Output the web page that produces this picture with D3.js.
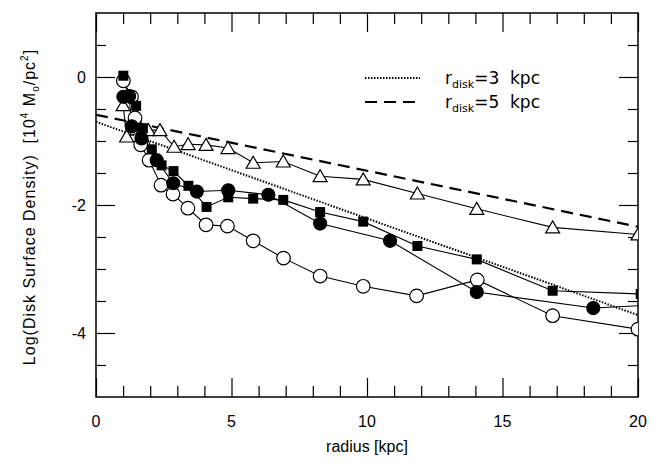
<!DOCTYPE html>
<html><head><meta charset="utf-8">
<script src="https://cdn.jsdelivr.net/npm/d3@7/dist/d3.min.js"></script>
<style>body{margin:0;background:#fff}svg{display:block}text{white-space:pre}</style>
</head><body>
<svg id="c" width="664" height="462"></svg>
<script>
// ---- data ----
const triX = [1.0, 1.13, 1.93, 2.36, 2.88, 3.4, 4.06, 4.87, 5.8, 6.91, 8.27, 9.86, 11.86, 14.05, 16.85, 20.0];
const triY = [-0.44, -0.93, -0.83, -0.83, -1.09, -1.05, -1.06, -1.11, -1.34, -1.32, -1.55, -1.60, -1.82, -2.06, -2.35, -2.46];
const fcX = [1.01, 1.22, 1.32, 1.68, 2.24, 2.85, 3.72, 4.88, 6.36, 8.27, 10.85, 14.05, 18.35, 20.6];
const fcY = [-0.31, -0.30, -0.77, -0.96, -1.30, -1.66, -1.79, -1.77, -1.84, -2.29, -2.56, -3.36, -3.61, -3.56];
const sqX = [1.01, 1.18, 1.48, 1.73, 2.06, 2.42, 2.86, 3.41, 4.08, 4.88, 5.80, 6.91, 8.27, 9.86, 11.86, 14.05, 16.85, 20.1];
const sqY = [0.02, -0.30, -0.45, -0.80, -1.13, -1.38, -1.47, -1.70, -2.03, -1.88, -1.90, -1.92, -2.11, -2.26, -2.64, -2.85, -3.34, -3.39];
const ocX = [1.01, 1.31, 1.44, 1.65, 1.96, 2.40, 2.84, 3.39, 4.06, 4.85, 5.80, 6.92, 8.27, 9.86, 11.83, 14.07, 16.85, 20.0];
const ocY = [-0.06, -0.31, -0.64, -1.06, -1.30, -1.69, -1.83, -2.05, -2.31, -2.33, -2.56, -2.83, -3.11, -3.27, -3.42, -3.17, -3.73, -3.94];
const modelX = [0, 20];
const r3Y = [-0.70, -3.72];
const r5Y = [-0.59, -2.34];
const xTicks = [0, 5, 10, 15, 20];
const yTicks = [0, -2, -4];
const legendLabels = ["3", "5"];

// ---- layout ----
const svg = d3.select("#c");
const x = d3.scaleLinear().domain([0, 20]).range([96, 638]);
const y = d3.scaleLinear().domain([1, -5]).range([13, 397]);
const FONT = "'Liberation Sans', Arial, sans-serif";

svg.append("defs").append("clipPath").attr("id", "clip")
  .append("rect").attr("x", 96).attr("y", 13).attr("width", 542).attr("height", 384);

function addAxis(axisFn, scale, tr, ticks, size) {
  const g = svg.append("g").attr("transform", tr)
    .call(axisFn(scale).tickValues(ticks).tickSize(size).tickFormat(() => ""));
  g.select(".domain").remove();
  g.selectAll("line").attr("stroke", "#000").attr("stroke-width", 1.2);
  return g;
}
const xMinor = d3.range(0, 21, 1).filter(v => v % 5 !== 0);
const yMinor = d3.range(1, -5.01, -0.5).filter(v => !yTicks.includes(v) && v !== 1 && v !== -5);
addAxis(d3.axisTop, x, "translate(0,397)", xTicks, 19);
addAxis(d3.axisTop, x, "translate(0,397)", xMinor, 11);
addAxis(d3.axisBottom, x, "translate(0,13)", xTicks, 19);
addAxis(d3.axisBottom, x, "translate(0,13)", xMinor, 11);
addAxis(d3.axisRight, y, "translate(96,0)", yTicks, 19);
addAxis(d3.axisRight, y, "translate(96,0)", yMinor, 10);
addAxis(d3.axisLeft, y, "translate(638,0)", yTicks, 19);
addAxis(d3.axisLeft, y, "translate(638,0)", yMinor, 10);

svg.append("rect").attr("x", 96).attr("y", 13).attr("width", 542).attr("height", 384)
  .attr("fill", "none").attr("stroke", "#000").attr("stroke-width", 1.5);

// tick labels
svg.append("g").selectAll("text").data(xTicks).join("text")
  .attr("x", d => x(d)).attr("y", 427).attr("text-anchor", "middle")
  .attr("font-family", FONT).attr("font-size", 16).text(d => d);
svg.append("g").selectAll("text").data(yTicks).join("text")
  .attr("x", 86).attr("y", d => y(d) + 6).attr("text-anchor", "end")
  .attr("font-family", FONT).attr("font-size", 16).text(d => d);

// axis titles
svg.append("text").attr("x", 367).attr("y", 452).attr("text-anchor", "middle")
  .attr("font-family", FONT).attr("font-size", 16).text("radius [kpc]");
const yl = svg.append("text").attr("transform", "translate(35,207) rotate(-90)")
  .attr("text-anchor", "middle").attr("font-family", FONT).attr("font-size", 16)
  .attr("letter-spacing", 1.0);
yl.append("tspan").text("Log(Disk Surface Density)  [10");
yl.append("tspan").attr("dy", -7).attr("font-size", 10).text("4");
yl.append("tspan").attr("dy", 7).text(" M");
yl.append("tspan").attr("dy", 4).attr("font-size", 10).text("o");
yl.append("tspan").attr("dy", -4).text("/pc");
yl.append("tspan").attr("dy", -7).attr("font-size", 10).text("2");
yl.append("tspan").attr("dy", 7).text("]");

const plot = svg.append("g").attr("clip-path", "url(#clip)");
const line = d3.line().x(d => x(d[0])).y(d => y(d[1]));
plot.append("path").datum(d3.zip(modelX, r3Y)).attr("d", line)
  .attr("fill", "none").attr("stroke", "#000").attr("stroke-width", 2).attr("stroke-dasharray", "1.5,1.5");
plot.append("path").datum(d3.zip(modelX, r5Y)).attr("d", line)
  .attr("fill", "none").attr("stroke", "#000").attr("stroke-width", 2.2).attr("stroke-dasharray", "12,7");

const series = [
  {xs: ocX, ys: ocY, type: "ocirc"},
  {xs: triX, ys: triY, type: "tri"},
  {xs: sqX, ys: sqY, type: "sq"},
  {xs: fcX, ys: fcY, type: "fcirc"}
];
series.forEach(s => {
  plot.append("path").datum(d3.zip(s.xs, s.ys)).attr("d", line)
    .attr("fill", "none").attr("stroke", "#000").attr("stroke-width", 1.1);
});
series.forEach(s => {
  const pts = d3.zip(s.xs, s.ys);
  const g = plot.append("g");
  if (s.type === "ocirc" || s.type === "fcirc") {
    g.selectAll("circle").data(pts).join("circle")
      .attr("cx", d => x(d[0])).attr("cy", d => y(d[1]))
      .attr("r", s.type === "ocirc" ? 6.8 : 6.5)
      .attr("fill", s.type === "ocirc" ? "#fff" : "#000")
      .attr("stroke", "#000").attr("stroke-width", 1.2);
  } else if (s.type === "sq") {
    g.selectAll("rect").data(pts).join("rect")
      .attr("x", d => x(d[0]) - 5).attr("y", d => y(d[1]) - 5)
      .attr("width", 10).attr("height", 10).attr("fill", "#000");
  } else {
    g.selectAll("path").data(pts).join("path")
      .attr("d", d => { const cx = x(d[0]), cy = y(d[1]);
        return `M${cx},${cy-6.5}L${cx+7},${cy+5.5}L${cx-7},${cy+5.5}Z`; })
      .attr("fill", "#fff").attr("stroke", "#000").attr("stroke-width", 1.2);
  }
});

// legend
const lg = svg.append("g");
const legDash = ["1.5,1.5", "12,7"];
legendLabels.forEach((lab, i) => {
  const ly = 78 + i * 24;
  lg.append("line").attr("x1", 365).attr("x2", 420).attr("y1", ly).attr("y2", ly)
    .attr("stroke", "#000").attr("stroke-width", 2).attr("stroke-dasharray", legDash[i]);
  const t = lg.append("text").attr("x", 445).attr("y", ly + 6)
    .attr("font-family", "'DejaVu Sans', sans-serif").attr("font-size", 17);
  t.append("tspan").text("r");
  t.append("tspan").attr("dy", 4).attr("font-size", 11).text("disk");
  t.append("tspan").attr("dy", -4).text("=" + lab + "\u00a0\u00a0kpc");
});
</script>
</body></html>
